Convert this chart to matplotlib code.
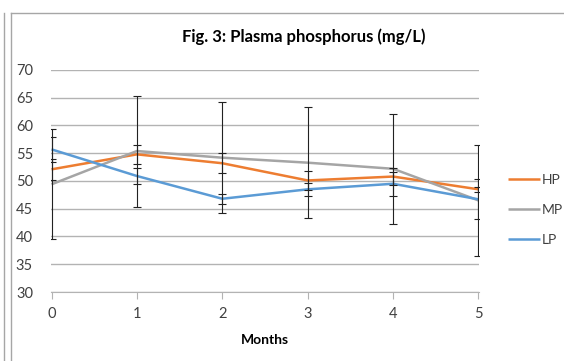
import numpy as np
import matplotlib.pyplot as plt
from matplotlib.lines import Line2D

plt.rcParams['font.family'] = ['Lato', 'DejaVu Sans']

months = [0, 1, 2, 3, 4, 5]
hp = [52.1, 54.8, 53.2, 50.1, 50.8, 48.5]
mp = [49.4, 55.4, 54.2, 53.3, 52.2, 46.5]
lp = [55.7, 50.9, 46.8, 48.5, 49.5, 46.7]
hp_err = [1.9, 1.7, 1.8, 1.7, 1.5, 0.4]
mp_err = [9.9, 10.0, 10.0, 10.0, 9.9, 10.0]
lp_err = [2.3, 1.5, 0.9, 1.2, 2.2, 3.6]

W, H = 564, 361
fig = plt.figure(figsize=(W / 100, H / 100), dpi=100)
ax = fig.add_axes([51 / W, 1 - 292 / H, (479 - 51) / W, (292 - 70) / H])

series = [('HP', hp, hp_err, '#ED7D31'),
          ('MP', mp, mp_err, '#A5A5A5'),
          ('LP', lp, lp_err, '#5B9BD5')]
for name, vals, err, col in series:
    ax.plot(months, vals, color=col, lw=1.8, label=name, zorder=3,
            solid_capstyle='butt')
for name, vals, err, col in series:
    ax.errorbar(months, vals, yerr=err, fmt='none', ecolor='#222222',
                elinewidth=0.8, capsize=3, capthick=0.8, zorder=4)

ax.set_xlim(-0.006, 5.006)
ax.set_ylim(30, 70)
ax.set_yticks(np.arange(30, 71, 5))
ax.set_xticks(months)
ax.yaxis.grid(True, color='#b3b3b3', lw=1)
ax.set_axisbelow(True)
for s in ['left', 'right', 'top']:
    ax.spines[s].set_visible(False)
ax.spines['bottom'].set_color('#b3b3b3')
ax.tick_params(axis='y', length=0, pad=13, labelsize=10.5, labelcolor='#404040')
ax.tick_params(axis='x', length=5, color='#b3b3b3', direction='out',
               pad=6, labelsize=10.5, labelcolor='#404040')

ax.set_xlabel('Months', fontsize=10, fontweight='bold', labelpad=9)
fig.text(304 / W, 1 - 37 / H, 'Fig. 3: Plasma phosphorus (mg/L)',
         ha='center', va='center', fontsize=12, fontweight='bold')

ax.legend(loc='center left', bbox_to_anchor=(508 / W, 1 - 210 / H),
          bbox_transform=fig.transFigure, frameon=False, fontsize=10,
          handlelength=2.3, handletextpad=0.15, labelspacing=1.3,
          borderaxespad=0, borderpad=0, labelcolor='#404040')

# chart frame lines
bc = '#a6a6a6'
fig.add_artist(Line2D([11 / W, 11 / W], [0, 1 - 13 / H], color=bc, lw=1))
fig.add_artist(Line2D([4 / W, 4 / W], [0, 1 - 13 / H], color=bc, lw=1))
fig.add_artist(Line2D([11 / W, 1], [1 - 13 / H, 1 - 13 / H], color=bc, lw=1))

fig.savefig('out.png', dpi=100)
